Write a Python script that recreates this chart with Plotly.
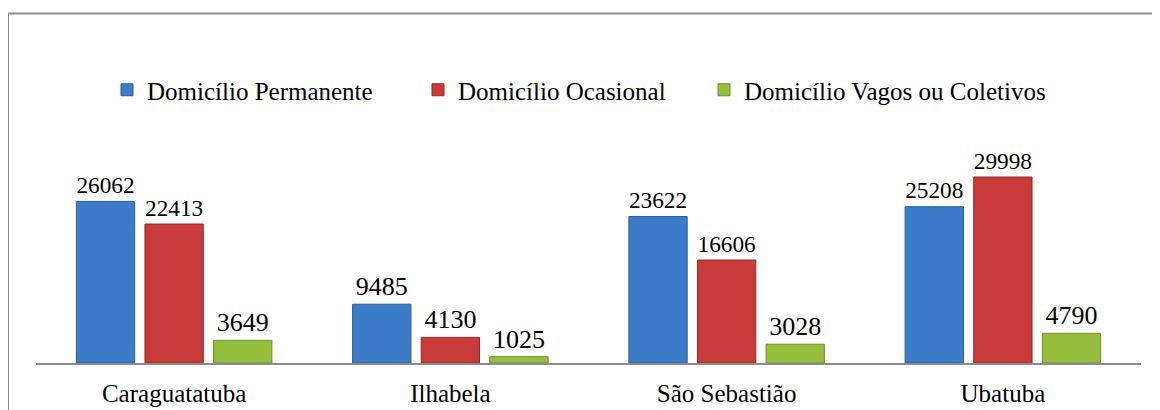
import plotly.graph_objects as go

categories = ["Caraguatatuba", "Ilhabela", "São Sebastião", "Ubatuba"]
series_names = ["Domicílio Permanente", "Domicílio Ocasional", "Domicílio Vagos ou Coletivos"]
permanente = [26062, 9485, 23622, 25208]
ocasional = [22413, 4130, 16606, 29998]
vagos = [3649, 1025, 3028, 4790]

colors = ["#3C7BC8", "#C93A3B", "#94BE3C"]
edge_colors = ["#2A5C9A", "#962828", "#6E9128"]
legend_ids = ["legend", "legend2", "legend3"]
FONT = "Liberation Serif"

fig = go.Figure()
for name, vals, c, ec, lg in zip(series_names, [permanente, ocasional, vagos], colors, edge_colors, legend_ids):
    fig.add_trace(go.Bar(
        x=categories, y=vals, name=name, legend=lg,
        marker=dict(color=c, line=dict(color=ec, width=1)),
        text=[str(v) for v in vals], textposition="outside",
        textfont=dict(family=FONT, size=26, color="#000000"),
        cliponaxis=False,
    ))

# page body adds an 8px offset; pixel targets below are in figure coordinates
L, R, T, B = 28, 27, 92, 55
W, H = 1160, 410
pw, ph = W - L - R, H - T - B

def px_x(p):
    return (p - L) / pw

def px_y(p):
    return (H - B - p) / ph

def legend_at(px):
    return dict(orientation="h", x=px_x(px), xanchor="left", y=px_y(82), yanchor="middle",
                font=dict(family=FONT, size=25, color="#000000"), itemwidth=30,
                bgcolor="rgba(0,0,0,0)")

fig.update_layout(
    width=W, height=H,
    margin=dict(l=L, r=R, t=T, b=B),
    paper_bgcolor="white", plot_bgcolor="white",
    barmode="group", bargap=0.255, bargroupgap=0.15,
    showlegend=True,
    font=dict(family=FONT, color="#000000"),
    legend=legend_at(99),
    legend2=legend_at(410),
    legend3=legend_at(696),
    xaxis=dict(showline=True, linecolor="#8C8C8C", linewidth=2, ticks="",
               tickfont=dict(family=FONT, size=25, color="#000000"),
               ticklabelstandoff=7, showgrid=False),
    yaxis=dict(range=[0, ph / 0.0062], visible=False, showgrid=False, zeroline=False),
    shapes=[dict(type="rect", xref="paper", yref="paper",
                 x0=px_x(0), x1=px_x(1200), y0=px_y(460), y1=px_y(5.5),
                 line=dict(color="#8A8A8A", width=2), fillcolor="rgba(0,0,0,0)", layer="below")],
)

fig.write_html("out.html")
